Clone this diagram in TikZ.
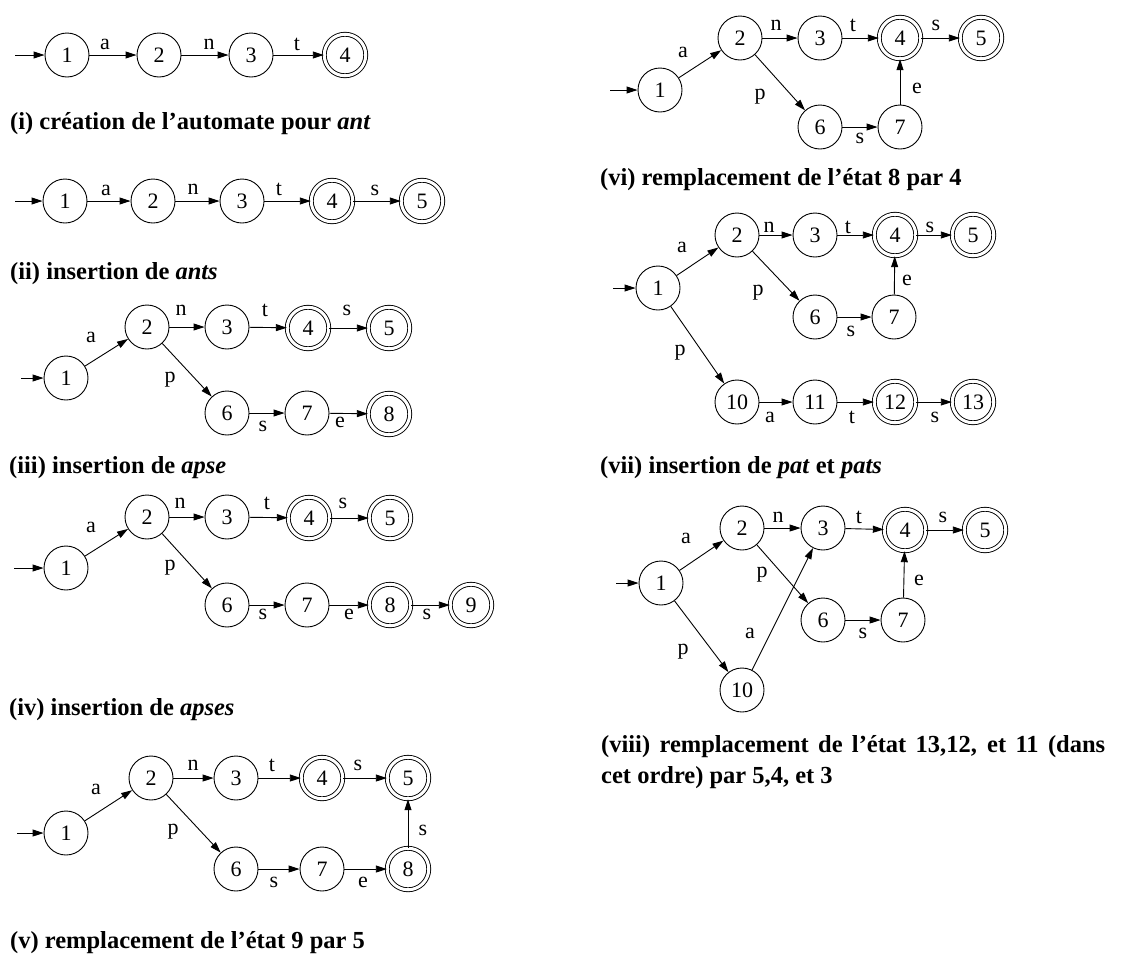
\documentclass[tikz,border=0pt]{standalone}
\usepackage{fontspec}
\setmainfont{Liberation Serif}
\usetikzlibrary{arrows.meta}
\newcommand\nodefont{\fontsize{22}{26}\selectfont}
\newcommand\capfont{\fontsize{24.5}{30}\selectfont\bfseries}
\tikzset{
  st/.style={circle, draw, line width=0.9pt, minimum size=44pt, inner sep=0pt, font=\nodefont},
  acc/.style={circle, draw, line width=0.9pt, double, double distance=3pt, minimum size=41.5pt, inner sep=0pt, font=\nodefont},
  tr/.style={-{Triangle[length=11pt,width=7pt]}, line width=0.9pt},
  lab/.style={inner sep=0pt, font=\nodefont},
  captxt/.style={anchor=base west, inner sep=0pt, font=\capfont},
}
\begin{document}
\begin{tikzpicture}[x=1pt,y=-1pt]
\useasboundingbox (0,0) rectangle (1147,959);

% ---------- (i) ----------
\node[st]  (A1) at (67,55) {1};
\node[st]  (A2) at (159,55) {2};
\node[st]  (A3) at (251,55) {3};
\node[acc] (A4) at (345,55) {4};
\coordinate (A0) at (15,55);
\draw[tr] (A0) -- (A1);
\draw[tr] (A1) -- (A2);
\draw[tr] (A2) -- (A3);
\draw[tr] (A3) -- (A4);
\node[lab] (Aa) at (105,44) {a};
\node[lab] (An) at (209,44) {n};
\node[lab] (At) at (297,44) {t};
\node[captxt] (Acap) at (10,129) {(i) création de l’automate pour \textit{ant}};

% ---------- (ii) ----------
\node[st]  (B1) at (65,201) {1};
\node[st]  (B2) at (153,201) {2};
\node[st]  (B3) at (242,201) {3};
\node[acc] (B4) at (332,201) {4};
\node[acc] (B5) at (422,201) {5};
\coordinate (B0) at (15,201);
\draw[tr] (B0) -- (B1);
\draw[tr] (B1) -- (B2);
\draw[tr] (B2) -- (B3);
\draw[tr] (B3) -- (B4);
\draw[tr] (B4) -- (B5);
\node[lab] (Ba) at (106,190) {a};
\node[lab] (Bn) at (193,189) {n};
\node[lab] (Bt) at (279,189) {t};
\node[lab] (Bs) at (375,190) {s};
\node[captxt] (Bcap) at (10,279) {(ii) insertion de \textit{ants}};

% ---------- (iii) ----------
\node[st]  (C1) at (66,378) {1};
\node[st]  (C2) at (147,327) {2};
\node[st]  (C3) at (227,327) {3};
\node[acc] (C4) at (308,328) {4};
\node[acc] (C5) at (389,328) {5};
\node[st]  (C6) at (227,413) {6};
\node[st]  (C7) at (307,413) {7};
\node[acc] (C8) at (389,414) {8};
\coordinate (C0) at (21,378);
\draw[tr] (C0) -- (C1);
\draw[tr] (C1) -- (C2);
\draw[tr] (C2) -- (C3);
\draw[tr] (C3) -- (C4);
\draw[tr] (C4) -- (C5);
\draw[tr] (C2) -- (C6);
\draw[tr] (C6) -- (C7);
\draw[tr] (C7) -- (C8);
\node[lab] (Ca) at (91,337) {a};
\node[lab] (Cn) at (181,310) {n};
\node[lab] (Ct) at (265,310) {t};
\node[lab] (Cs) at (347,310) {s};
\node[lab] (Cp) at (170,380) {p};
\node[lab] (Cs2) at (263,426) {s};
\node[lab] (Ce) at (340,422) {e};
\node[captxt] (Ccap) at (9,473) {(iii) insertion de \textit{apse}};

% ---------- (iv) ----------
\node[st]  (D1) at (66,568) {1};
\node[st]  (D2) at (147,517) {2};
\node[st]  (D3) at (227,517) {3};
\node[acc] (D4) at (309,518) {4};
\node[acc] (D5) at (390,518) {5};
\node[st]  (D6) at (227,605) {6};
\node[st]  (D7) at (307,605) {7};
\node[acc] (D8) at (390,605) {8};
\node[acc] (D9) at (471,605) {9};
\coordinate (D0) at (14,568);
\draw[tr] (D0) -- (D1);
\draw[tr] (D1) -- (D2);
\draw[tr] (D2) -- (D3);
\draw[tr] (D3) -- (D4);
\draw[tr] (D4) -- (D5);
\draw[tr] (D2) -- (D6);
\draw[tr] (D6) -- (D7);
\draw[tr] (D7) -- (D8);
\draw[tr] (D8) -- (D9);
\node[lab] (Da) at (91,527) {a};
\node[lab] (Dn) at (180,503) {n};
\node[lab] (Dt) at (267,503) {t};
\node[lab] (Ds) at (343,503) {s};
\node[lab] (Dp) at (170,568) {p};
\node[lab] (Ds2) at (263,614) {s};
\node[lab] (De) at (349,614) {e};
\node[lab] (Ds3) at (427,614) {s};
\node[captxt] (Dcap) at (9,715) {(iv) insertion de \textit{apses}};

% ---------- (v) ----------
\node[st]  (E1) at (66,833) {1};
\node[st]  (E2) at (151,778) {2};
\node[st]  (E3) at (236,778) {3};
\node[acc] (E4) at (322,778) {4};
\node[acc] (E5) at (408,778) {5};
\node[st]  (E6) at (236,869) {6};
\node[st]  (E7) at (322,869) {7};
\node[acc] (E8) at (408,869) {8};
\coordinate (E0) at (17,833);
\draw[tr] (E0) -- (E1);
\draw[tr] (E1) -- (E2);
\draw[tr] (E2) -- (E3);
\draw[tr] (E3) -- (E4);
\draw[tr] (E4) -- (E5);
\draw[tr] (E2) -- (E6);
\draw[tr] (E6) -- (E7);
\draw[tr] (E7) -- (E8);
\draw[tr] (E8) -- (E5);
\node[lab] (Ea) at (96,789) {a};
\node[lab] (En) at (193,765) {n};
\node[lab] (Et) at (272,765) {t};
\node[lab] (Es) at (358,765) {s};
\node[lab] (Ep) at (173,832) {p};
\node[lab] (Es2) at (274,882) {s};
\node[lab] (Ee) at (363,882) {e};
\node[lab] (Es3) at (423,830) {s};
\node[captxt] (Ecap) at (10,948) {(v) remplacement de l’état 9 par 5};

% ---------- (vi) ----------
\node[st]  (F1) at (660,90) {1};
\node[st]  (F2) at (740,38) {2};
\node[st]  (F3) at (820,38) {3};
\node[acc] (F4) at (900,38) {4};
\node[acc] (F5) at (981,38) {5};
\node[st]  (F6) at (820,127) {6};
\node[st]  (F7) at (900,127) {7};
\coordinate (F0) at (610,90);
\draw[tr] (F0) -- (F1);
\draw[tr] (F1) -- (F2);
\draw[tr] (F2) -- (F3);
\draw[tr] (F3) -- (F4);
\draw[tr] (F4) -- (F5);
\draw[tr] (F2) -- (F6);
\draw[tr] (F6) -- (F7);
\draw[tr] (F7) -- (F4);
\node[lab] (Fa) at (683,52) {a};
\node[lab] (Fn) at (776,25) {n};
\node[lab] (Ft) at (853,25) {t};
\node[lab] (Fs) at (936,25) {s};
\node[lab] (Fp) at (760,97) {p};
\node[lab] (Fs2) at (860,138) {s};
\node[lab] (Fe) at (917,88) {e};
\node[captxt] (Fcap) at (600,185) {(vi) remplacement de l’état 8 par 4};

% ---------- (vii) ----------
\node[st]  (G1) at (658,288) {1};
\node[st]  (G2) at (737,235) {2};
\node[st]  (G3) at (815,235) {3};
\node[acc] (G4) at (895,235) {4};
\node[acc] (G5) at (973,235) {5};
\node[st]  (G6) at (815,317) {6};
\node[st]  (G7) at (894,317) {7};
\node[st]  (G10) at (737,402) {10};
\node[st]  (G11) at (815,402) {11};
\node[acc] (G12) at (895,402) {12};
\node[acc] (G13) at (973,402) {13};
\coordinate (G0) at (613,288);
\draw[tr] (G0) -- (G1);
\draw[tr] (G1) -- (G2);
\draw[tr] (G2) -- (G3);
\draw[tr] (G3) -- (G4);
\draw[tr] (G4) -- (G5);
\draw[tr] (G2) -- (G6);
\draw[tr] (G6) -- (G7);
\draw[tr] (G7) -- (G4);
\draw[tr] (G1) -- (G10);
\draw[tr] (G10) -- (G11);
\draw[tr] (G11) -- (G12);
\draw[tr] (G12) -- (G13);
\node[lab] (Ga) at (682,247) {a};
\node[lab] (Gn) at (769,227) {n};
\node[lab] (Gt) at (848,227) {t};
\node[lab] (Gs) at (930,227) {s};
\node[lab] (Gp) at (758,293) {p};
\node[lab] (Ge) at (907,280) {e};
\node[lab] (Gs2) at (851,331) {s};
\node[lab] (Gp2) at (680,353) {p};
\node[lab] (Ga2) at (770,417) {a};
\node[lab] (Gt2) at (852,417) {t};
\node[lab] (Gs3) at (935,417) {s};
\node[captxt] (Gcap) at (600,473) {(vii) insertion de \textit{pat} et \textit{pats}};

% ---------- (viii) ----------
\node[st]  (H1) at (661,583) {1};
\node[st]  (H2) at (742,528) {2};
\node[st]  (H3) at (823,528) {3};
\node[acc] (H4) at (905,530) {4};
\node[acc] (H5) at (985,530) {5};
\node[st]  (H6) at (823,620) {6};
\node[st]  (H7) at (903,620) {7};
\node[st]  (H10) at (742,690) {10};
\coordinate (H0) at (616,583);
\draw[tr] (H0) -- (H1);
\draw[tr] (H1) -- (H2);
\draw[tr] (H2) -- (H3);
\draw[tr] (H3) -- (H4);
\draw[tr] (H4) -- (H5);
\draw[tr] (H2) -- (H6);
\draw[tr] (H6) -- (H7);
\draw[tr] (H7) -- (H4);
\draw[tr] (H1) -- (H10);
\draw[tr] (H10) -- (H3);
\node[lab] (Ha) at (686,538) {a};
\node[lab] (Hn) at (778,517) {n};
\node[lab] (Ht) at (859,517) {t};
\node[lab] (Hs) at (943,517) {s};
\node[lab] (Hp) at (762,575) {p};
\node[lab] (He) at (919,580) {e};
\node[lab] (Hs2) at (863,633) {s};
\node[lab] (Ha2) at (750,633) {a};
\node[lab] (Hp2) at (683,652) {p};
\node[captxt] (Hcap1) at (601,752) {\makebox[504pt][s]{(viii) remplacement de l’état 13,12, et 11 (dans}};
\node[captxt] (Hcap2) at (601,783) {cet ordre) par 5,4, et 3};
\end{tikzpicture}
\end{document}
